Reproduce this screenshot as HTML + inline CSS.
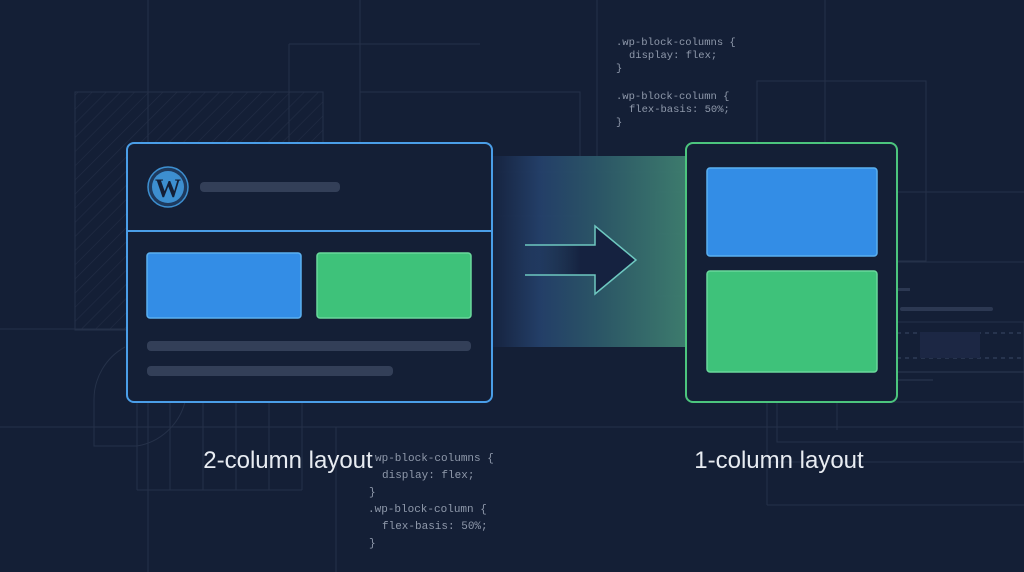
<!DOCTYPE html>
<html><head><meta charset="utf-8"><style>
html,body{margin:0;padding:0;background:#141f36;}
svg{display:block}
</style></head><body>
<svg width="1024" height="572" viewBox="0 0 1024 572" xmlns="http://www.w3.org/2000/svg">
<defs>
<pattern id="hatch" width="10" height="10" patternUnits="userSpaceOnUse" patternTransform="rotate(45)">
<line x1="0" y1="0" x2="0" y2="10" stroke="#222d46" stroke-width="1.2"/>
</pattern>
<linearGradient id="band" x1="0" x2="1" y1="0" y2="0">
<stop offset="0" stop-color="#16233f"/>
<stop offset="0.25" stop-color="#24406a"/>
<stop offset="0.55" stop-color="#2c5868"/>
<stop offset="1" stop-color="#3f8070"/>
</linearGradient>
<linearGradient id="arrowfill" x1="0" x2="1">
<stop offset="0" stop-color="#1c2e4e" stop-opacity="0"/>
<stop offset="0.5" stop-color="#152240"/>
<stop offset="1" stop-color="#152240"/>
</linearGradient>
</defs>
<rect width="1024" height="572" fill="#141f36"/>
<g stroke="#253149" stroke-width="1" fill="none">
<rect x="75" y="92" width="248" height="238" fill="url(#hatch)"/>
<line x1="148" y1="0" x2="148" y2="572"/>
<line x1="0" y1="329" x2="323" y2="329"/>
<line x1="0" y1="427" x2="1024" y2="427"/>
<line x1="289" y1="44" x2="480" y2="44"/>
<line x1="289" y1="44" x2="289" y2="143"/>
<rect x="360" y="92" width="220" height="124"/>
<line x1="360" y1="0" x2="360" y2="143"/>
<line x1="597" y1="0" x2="597" y2="172"/>
<line x1="492" y1="172" x2="686" y2="172"/>
<rect x="656" y="192" width="60" height="104"/>
<line x1="656" y1="234" x2="686" y2="234"/>
<line x1="825" y1="0" x2="825" y2="143"/>
<rect x="757" y="81" width="169" height="180"/>
<line x1="897" y1="192" x2="1024" y2="192"/>
<line x1="897" y1="262" x2="1024" y2="262"/>
<line x1="897" y1="322" x2="1024" y2="322"/>
<rect x="767" y="322" width="257" height="140"/>
<line x1="767" y1="402" x2="1024" y2="402"/>
<line x1="837" y1="402" x2="837" y2="430"/>
<rect x="777" y="402" width="247" height="40"/>
<line x1="767" y1="462" x2="767" y2="505"/>
<line x1="767" y1="505" x2="1024" y2="505"/>
<line x1="336" y1="427" x2="336" y2="572"/>
<line x1="137" y1="402" x2="137" y2="490"/>
<line x1="137" y1="490" x2="302" y2="490"/>
<line x1="170" y1="402" x2="170" y2="490"/>
<line x1="203" y1="402" x2="203" y2="490"/>
<line x1="236" y1="402" x2="236" y2="490"/>
<line x1="269" y1="402" x2="269" y2="490"/>
<line x1="302" y1="402" x2="302" y2="490"/>
<path d="M125 347 A60 60 0 0 0 94 400 L94 446 L137 446 A60 60 0 0 0 185 402"/>
</g>
<g stroke="#3a4a66" stroke-width="1" stroke-dasharray="4 4">
<line x1="897" y1="333" x2="1024" y2="333"/>
<line x1="897" y1="358" x2="1024" y2="358"/>
</g>
<rect x="920" y="332" width="60" height="26" fill="#1c2744"/>
<rect x="900" y="307" width="93" height="4" rx="2" fill="#2c3852"/>
<rect x="865" y="288" width="45" height="3" fill="#2c3852"/>
<line x1="850" y1="372" x2="1024" y2="372" stroke="#2c3852"/>
<line x1="850" y1="380" x2="933" y2="380" stroke="#2c3852"/>
<!-- band -->
<rect x="492" y="156" width="194" height="191" fill="url(#band)" opacity="0.95"/>
<!-- arrow -->
<path d="M525 245 L595 245 L595 226 L636 260 L595 294 L595 275 L525 275" fill="url(#arrowfill)" stroke="#6ec8c0" stroke-width="1.5"/>
<!-- left card -->
<rect x="127" y="143" width="365" height="259" rx="7" fill="#141f36" stroke="#4a9ee8" stroke-width="2"/>
<line x1="127" y1="231" x2="492" y2="231" stroke="#4a9ee8" stroke-width="2"/>
<circle cx="168" cy="187" r="20" fill="#1e3a5e" stroke="#3d8fd0" stroke-width="1.5"/>
<circle cx="168" cy="187" r="16" fill="#3d8fd0"/>
<text x="168" y="197" text-anchor="middle" font-family="Liberation Serif,serif" font-size="26" font-weight="bold" fill="#141f36">W</text>
<rect x="200" y="182" width="140" height="10" rx="4" fill="#333f58"/>
<rect x="147" y="253" width="154" height="65" rx="3" fill="#338de6" stroke="#5bb0f0" stroke-width="1.5"/>
<rect x="317" y="253" width="154" height="65" rx="3" fill="#3ec27a" stroke="#6ad89c" stroke-width="1.5"/>
<rect x="147" y="341" width="324" height="10" rx="4" fill="#333f58"/>
<rect x="147" y="366" width="246" height="10" rx="4" fill="#333f58"/>
<!-- right card -->
<rect x="686" y="143" width="211" height="259" rx="7" fill="#141f36" stroke="#4cc57e" stroke-width="2"/>
<rect x="707" y="168" width="170" height="88" rx="3" fill="#338de6" stroke="#5bb0f0" stroke-width="1.5"/>
<rect x="707" y="271" width="170" height="101" rx="3" fill="#3ec27a" stroke="#6ad89c" stroke-width="1.5"/>
<!-- labels -->
<text x="288" y="468" text-anchor="middle" font-family="Liberation Sans,sans-serif" font-size="24" fill="#e8ecf2">2-column layout</text>
<text x="779" y="468" text-anchor="middle" font-family="Liberation Sans,sans-serif" font-size="24" fill="#e8ecf2">1-column layout</text>
<g font-family="Liberation Mono,monospace" font-size="10.5" fill="#8f99ab">
<text x="616" y="45">.wp-block-columns {</text>
<text x="629" y="58">display: flex;</text>
<text x="616" y="71">}</text>
<text x="616" y="99">.wp-block-column {</text>
<text x="629" y="112">flex-basis: 50%;</text>
<text x="616" y="125">}</text>
</g>
<g font-family="Liberation Mono,monospace" font-size="11" fill="#8f99ab">
<text x="375" y="461">wp-block-columns {</text>
<text x="382" y="478">display: flex;</text>
<text x="369" y="495">}</text>
<text x="368" y="512">.wp-block-column {</text>
<text x="382" y="529">flex-basis: 50%;</text>
<text x="369" y="546">}</text>
</g>
</svg>
</body></html>
